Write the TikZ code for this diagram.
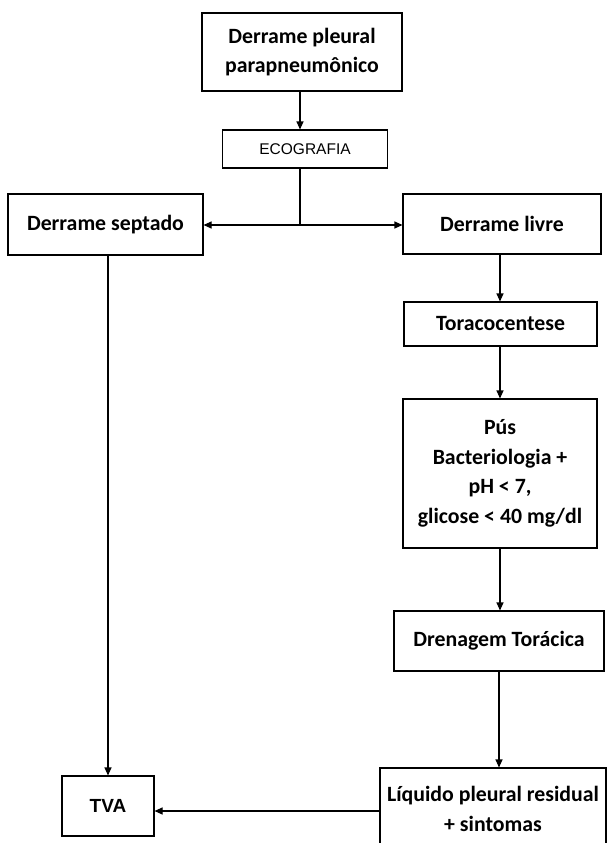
\documentclass[tikz,border=0pt]{standalone}
\usepackage{fontspec}
\usetikzlibrary{arrows.meta}
\newfontfamily\flowfont{Carlito}
\newfontfamily\arialfont{Liberation Sans}
\begin{document}
\begin{tikzpicture}[x=1pt,y=-1pt,
  box/.style={draw, line width=1.1pt, align=center, inner sep=0pt,
    font=\flowfont\bfseries\fontsize{21.8}{29.5}\selectfont},
  conn/.style={line width=1.1pt, -{Triangle[length=8pt,width=7pt]}},
  plain/.style={line width=1.1pt}]
\useasboundingbox (0,0) rectangle (610,843);
\fill[white] (0,0) rectangle (610,843);

% boxes
\node[box, minimum width=200, minimum height=78] (b1) at (302,52)
  {Derrame pleural\\parapneumônico};
\node[box, minimum width=165, minimum height=38,
  font=\arialfont\fontsize{15.5}{18}\selectfont] (eco) at (305,149) {ECOGRAFIA};
\node[box, minimum width=195, minimum height=61] (sept) at (105.5,224.5) {Derrame septado};
\node[box, minimum width=198, minimum height=60] (livre) at (502,224) {Derrame livre};
\node[box, minimum width=193, minimum height=44] (tora) at (500.5,324) {Toracocentese};
\node[box, minimum width=194, minimum height=149] (pus) at (500,473.5)
  {Pús\\Bacteriologia +\\pH < 7,\\glicose < 40 mg/dl};
\node[box, minimum width=210, minimum height=60] (dren) at (499,641) {Drenagem Torácica};
\node[box, minimum width=226, minimum height=82] (liq) at (493,809)
  {Líquido pleural residual\\+ sintomas};
\node[box, minimum width=92, minimum height=60,
  font=\arialfont\bfseries\fontsize{19}{22}\selectfont] (tva) at (108,806) {TVA};

% connectors
\coordinate (j) at (300,225);
\coordinate (rc) at (500,0);
\draw[conn] (b1.south -| j) -- (eco.north -| j);
\draw[plain] (eco.south -| j) -- (j);
\draw[conn] (j) -- (sept.east |- j);
\draw[conn] (j) -- (livre.west |- j);
\draw[conn] (sept.south -| tva.north) -- (tva.north);
\draw[conn] (livre.south -| rc) -- (tora.north -| rc);
\draw[conn] (tora.south -| rc) -- (pus.north -| rc);
\draw[conn] (pus.south -| rc) -- (dren.north -| rc);
\draw[conn] (dren.south) -- (dren.south |- liq.north);
\draw[conn] ([yshift=-5pt]liq.west |- tva.east) -- ([yshift=-5pt]tva.east);
\end{tikzpicture}
\end{document}
